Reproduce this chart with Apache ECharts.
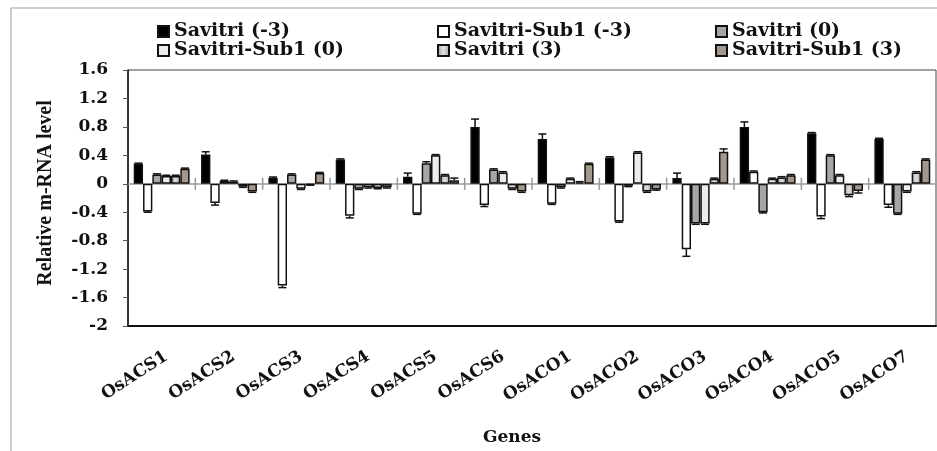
<!DOCTYPE html>
<html>
<head>
<meta charset="utf-8">
<script src="https://cdn.jsdelivr.net/npm/echarts@6/dist/echarts.min.js"></script>
<style>
html,body{margin:0;padding:0;background:#fff;}
#chart{width:937px;height:451px;}
</style>
</head>
<body>
<div id="chart"></div>
<script>
// ---- data ----
const genes = ['OsACS1','OsACS2','OsACS3','OsACS4','OsACS5','OsACS6','OsACO1','OsACO2','OsACO3','OsACO4','OsACO5','OsACO7'];
const seriesNames = ['Savitri (-3)','Savitri-Sub1 (-3)','Savitri (0)','Savitri-Sub1 (0)','Savitri (3)','Savitri-Sub1 (3)'];
const savitriM3     = [0.28, 0.41, 0.085, 0.34, 0.10, 0.80, 0.63, 0.37, 0.08, 0.80, 0.71, 0.63];
const sub1M3        = [-0.39, -0.27, -1.43, -0.45, -0.42, -0.30, -0.28, -0.53, -0.92, 0.17, -0.46, -0.30];
const savitri0      = [0.13, 0.04, 0.13, -0.07, 0.29, 0.20, -0.05, -0.03, -0.56, -0.40, 0.40, -0.42];
const sub10         = [0.11, 0.03, -0.07, -0.05, 0.40, 0.16, 0.07, 0.44, -0.56, 0.07, 0.12, -0.11];
const savitri3      = [0.11, -0.04, -0.01, -0.06, 0.12, -0.07, 0.02, -0.11, 0.07, 0.09, -0.16, 0.16];
const sub13         = [0.21, -0.11, 0.15, -0.05, 0.05, -0.11, 0.28, -0.08, 0.45, 0.12, -0.10, 0.34];
// error bar magnitudes
const errSavitriM3  = [0.01, 0.04, 0.01, 0.01, 0.05, 0.11, 0.07, 0.01, 0.07, 0.07, 0.01, 0.01];
const errSub1M3     = [0.01, 0.03, 0.03, 0.03, 0.01, 0.02, 0.01, 0.01, 0.10, 0.01, 0.03, 0.03];
const errSavitri0   = [0.01, 0.01, 0.01, 0.01, 0.02, 0.01, 0.01, 0.01, 0.01, 0.01, 0.01, 0.01];
const errSub10      = [0.01, 0.01, 0.01, 0.01, 0.01, 0.01, 0.01, 0.01, 0.01, 0.01, 0.01, 0.01];
const errSavitri3   = [0.01, 0.01, 0.01, 0.01, 0.01, 0.01, 0.01, 0.01, 0.01, 0.01, 0.02, 0.01];
const errSub13      = [0.01, 0.01, 0.01, 0.01, 0.03, 0.01, 0.01, 0.01, 0.04, 0.01, 0.03, 0.01];
const yMin = -2, yMax = 1.6, yInterval = 0.4;

const values = [savitriM3, sub1M3, savitri0, sub10, savitri3, sub13];
const errors = [errSavitriM3, errSub1M3, errSavitri0, errSub10, errSavitri3, errSub13];

// ---- styles ----
const CAT_GAP = 0.17;
const serif = 'DejaVu Serif';
const fills = [
  '#000000',
  '#ffffff',
  '#a6a6a6',
  '#ececec',
  new echarts.graphic.LinearGradient(0,0,1,0,[{offset:0,color:'#a0a0a0'},{offset:0.5,color:'#e2e2e2'},{offset:1,color:'#a0a0a0'}]),
  '#a59789'
];

const chart = echarts.init(document.getElementById('chart'));

const barSeries = seriesNames.map((name, s) => ({
  name: name,
  type: 'bar',
  data: values[s],
  barGap: '0%',
  barCategoryGap: (CAT_GAP*100) + '%',
  itemStyle: { color: fills[s], borderColor: '#111', borderWidth: 1.5 },
  emphasis: { disabled: true },
  z: 3,
  markLine: s === 0 ? {
    silent: true, symbol: 'none', label: { show: false },
    lineStyle: { color: '#9a9a9a', width: 1.5, type: 'solid' },
    data: [{ yAxis: 0 }], z: 2
  } : undefined
}));

const errData = [];
values.forEach((arr, s) => arr.forEach((v, i) => { errData.push([i, v, errors[s][i], s]); }));

const errSeries = {
  type: 'custom',
  data: errData,
  z: 5,
  silent: true,
  renderItem: function (params, api) {
    const i = api.value(0), v = api.value(1), e = api.value(2), s = api.value(3);
    const cw = api.size([1, 0])[0];
    const gw = cw * (1 - CAT_GAP);
    const bw = gw / 6;
    const xc = api.coord([i, 0])[0] - gw / 2 + bw * (s + 0.5);
    const end = v >= 0 ? v + e : v - e;
    const y1 = api.coord([i, v])[1];
    const y2 = api.coord([i, end])[1];
    const st = { stroke: '#111', lineWidth: 1.5 };
    return { type: 'group', children: [
      { type: 'line', shape: { x1: xc, y1: y1, x2: xc, y2: y2 }, style: st },
      { type: 'line', shape: { x1: xc - 4, y1: y2, x2: xc + 4, y2: y2 }, style: st }
    ]};
  }
};

const sepSeries = {
  type: 'custom',
  data: genes.map((g, i) => [i, 0]).slice(1),
  z: 4,
  silent: true,
  renderItem: function (params, api) {
    const i = api.value(0);
    const cw = api.size([1, 0])[0];
    const p = api.coord([i, 0]);
    const x = p[0] - cw / 2;
    return { type: 'line', shape: { x1: x, y1: p[1] - 6, x2: x, y2: p[1] + 6 }, style: { stroke: '#9a9a9a', lineWidth: 1.5 } };
  }
};

const legendCol = (left, names) => ({
  orient: 'vertical',
  left: left, top: 17,
  itemWidth: 11, itemHeight: 11,
  itemGap: 0,
  icon: 'rect',
  selectedMode: false,
  data: names,
  textStyle: { fontFamily: serif, fontWeight: 'bold', fontSize: 19, lineHeight: 19, color: '#111' }
});

chart.setOption({
  animation: false,
  backgroundColor: '#fff',
  legend: [
    legendCol(152, [seriesNames[0], seriesNames[3]]),
    legendCol(432, [seriesNames[1], seriesNames[4]]),
    legendCol(710, [seriesNames[2], seriesNames[5]])
  ],
  grid: { left: 128, right: 1, top: 70, bottom: 123, show: true, borderColor: '#444', borderWidth: 1, backgroundColor: '#fff' },
  xAxis: {
    type: 'category',
    data: genes,
    position: 'bottom',
    axisLine: { onZero: false, lineStyle: { color: '#111', width: 2 } },
    axisTick: { show: false },
    axisLabel: { interval: 0, rotate: 33, margin: 22, verticalAlign: 'top', align: 'right',
      fontFamily: serif, fontWeight: 'bold', fontSize: 17, color: '#111' },
    name: 'Genes',
    nameLocation: 'middle',
    nameGap: 103,
    nameTextStyle: { fontFamily: serif, fontWeight: 'bold', fontSize: 17, color: '#111', padding: [0, 40, 0, 0] }
  },
  yAxis: {
    type: 'value',
    min: yMin, max: yMax, interval: yInterval,
    splitLine: { show: false },
    axisLine: { show: true, lineStyle: { color: '#111', width: 1.5 } },
    axisTick: { show: true, length: 5, lineStyle: { color: '#555', width: 1 } },
    axisLabel: { margin: 20, fontFamily: serif, fontWeight: 'bold', fontSize: 17, color: '#111',
      formatter: v => String(+v.toFixed(1)) },
    name: 'Relative m-RNA level',
    nameLocation: 'middle',
    nameRotate: 90,
    nameGap: 72,
    nameTextStyle: { fontFamily: 'Liberation Serif', fontWeight: 'bold', fontSize: 20, color: '#111', padding: [0, 0, 0, 10] }
  },
  graphic: [
    { type: 'line', shape: { x1: 11, y1: 8, x2: 11, y2: 451 }, style: { stroke: '#bdbdbd', lineWidth: 1.5 }, silent: true },
    { type: 'line', shape: { x1: 11, y1: 8, x2: 937, y2: 8 }, style: { stroke: '#bdbdbd', lineWidth: 1.5 }, silent: true }
  ],
  series: barSeries.concat([sepSeries, errSeries])
});
</script>
</body>
</html>
